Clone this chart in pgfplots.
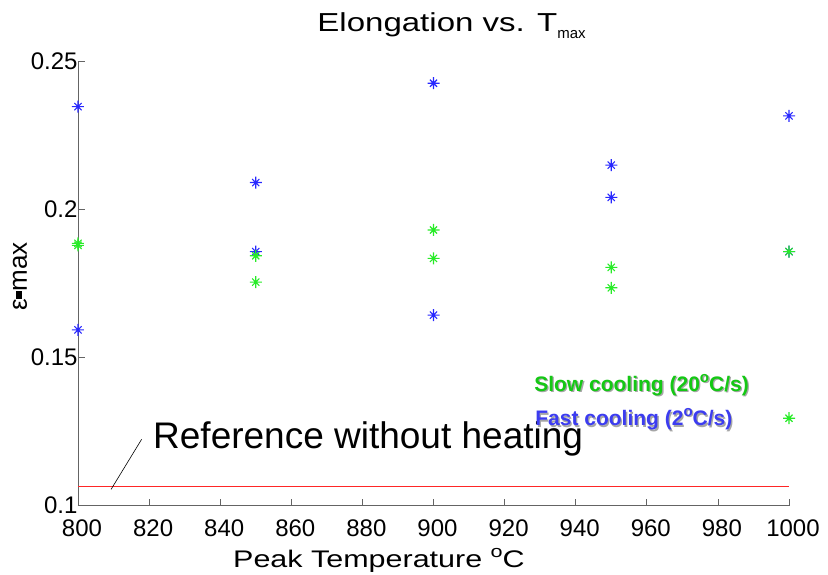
\documentclass[border=0pt]{standalone}
\usepackage{pgfplots}
\pgfplotsset{compat=1.18}
\usepackage{fontspec}
\setmainfont{Liberation Sans}
\newfontfamily\widefont[FakeStretch=1.27]{Liberation Sans}
\definecolor{mblue}{RGB}{40,40,255}
\definecolor{mgreen}{RGB}{40,235,40}
\definecolor{tgreen}{RGB}{20,200,20}
\definecolor{tblue}{RGB}{60,60,240}
\definecolor{axgray}{RGB}{100,100,100}
\pgfdeclareplotmark{mstar}{%
  \pgfpathmoveto{\pgfqpoint{-\pgfplotmarksize}{0pt}}\pgfpathlineto{\pgfqpoint{\pgfplotmarksize}{0pt}}%
  \pgfpathmoveto{\pgfqpoint{0pt}{-\pgfplotmarksize}}\pgfpathlineto{\pgfqpoint{0pt}{\pgfplotmarksize}}%
  \pgfpathmoveto{\pgfqpoint{-0.6\pgfplotmarksize}{-0.6\pgfplotmarksize}}\pgfpathlineto{\pgfqpoint{0.6\pgfplotmarksize}{0.6\pgfplotmarksize}}%
  \pgfpathmoveto{\pgfqpoint{-0.6\pgfplotmarksize}{0.6\pgfplotmarksize}}\pgfpathlineto{\pgfqpoint{0.6\pgfplotmarksize}{-0.6\pgfplotmarksize}}%
  \pgfusepathqstroke}
\pgfplotstableread{
x y
800 0.2346
800 0.1593
850 0.2090
850 0.1857
900 0.2425
900 0.1643
950 0.2149
950 0.2040
1000 0.2315
1000 0.1857
}\fastdata
\pgfplotstableread{
x y
800 0.1885
800 0.1878
850 0.1843
850 0.1754
900 0.1930
900 0.1834
950 0.1804
950 0.1735
1000 0.1857
1000 0.1295
}\slowdata
\begin{document}
\begin{tikzpicture}
\begin{axis}[
  at={(0,0)}, anchor=south west, scale only axis,
  width=711pt, height=444.7pt,
  xmin=800, xmax=1000, ymin=0.1, ymax=0.25,
  axis lines=left,
  axis line style={-, draw=axgray, line width=0.8pt},
  xtick={800,820,840,860,880,900,920,940,960,980,1000},
  xticklabels={800,820,840,860,880,900,920,940,960,980,1000},
  ytick={0.1,0.15,0.2,0.25},
  yticklabels={0.1,0.15,0.2,0.25},
  tick align=inside, major tick length=7pt,
  tick style={axgray, line width=0.8pt},
  ticklabel style={font=\fontsize{24}{28}\selectfont},
  /pgf/number format/assume math mode=true,
  xticklabel style={yshift=-11pt, xshift=4pt},
  yticklabel style={xshift=3pt},
  clip=false,
]
\addplot[red!85, line width=1pt, forget plot] coordinates {(800,0.1064) (1000,0.1064)};
\addplot[only marks, mark=mstar, mark size=6pt, mblue, line width=1.1pt] table[x=x,y=y] {\fastdata};
\addplot[only marks, mark=mstar, mark size=6pt, mgreen, line width=1.1pt] table[x=x,y=y] {\slowdata};
\draw[black, line width=0.6pt] (axis cs:809.3,0.1055) -- (axis cs:817.9,0.1224);
\node[anchor=base west, inner sep=0pt, font=\fontsize{37}{40}\selectfont] at (axis cs:821.1,0.11936) {Reference without heating};
\node[anchor=base west, inner sep=0pt, font=\widefont\fontsize{26}{30}\selectfont] at (axis cs:867.3,0.2601) {Elongation vs. T\raisebox{-7pt}{\normalfont\fontsize{15}{18}\selectfont max}};
\node[anchor=base west, inner sep=0pt, font=\widefont\fontsize{24}{28}\selectfont] at (axis cs:843.6,0.0790) {Peak Temperature \raisebox{0.45em}{\fontsize{17}{20}\selectfont o}C};
\node[rotate=90, anchor=center, inner sep=0pt, font=\fontsize{26}{30}\selectfont] at (axis cs:783.7,0.1773) {ε\rule[0.2em]{0.3em}{0.22em}max};
% legend-like labels with drop shadow
\node[anchor=base west, inner sep=0pt, font=\bfseries\fontsize{21}{26}\selectfont, text=black!35, xshift=1.3pt, yshift=-1.3pt] at (axis cs:928.3,0.1385) {Slow cooling (20\raisebox{0.45em}{\fontsize{15}{18}\selectfont o}C/s)};
\node[anchor=base west, inner sep=0pt, font=\bfseries\fontsize{21}{26}\selectfont, text=tgreen] at (axis cs:928.3,0.1385) {Slow cooling (20\raisebox{0.45em}{\fontsize{15}{18}\selectfont o}C/s)};
\node[anchor=base west, inner sep=0pt, font=\bfseries\fontsize{21}{26}\selectfont, text=black!35, xshift=1.3pt, yshift=-1.3pt] at (axis cs:928.6,0.1269) {Fast cooling (2\raisebox{0.45em}{\fontsize{15}{18}\selectfont o}C/s)};
\node[anchor=base west, inner sep=0pt, font=\bfseries\fontsize{21}{26}\selectfont, text=tblue] at (axis cs:928.6,0.1269) {Fast cooling (2\raisebox{0.45em}{\fontsize{15}{18}\selectfont o}C/s)};
\end{axis}
\pgfresetboundingbox
\path (-78pt,-69.3pt) rectangle (750pt,505.7pt);
\end{tikzpicture}
\end{document}
